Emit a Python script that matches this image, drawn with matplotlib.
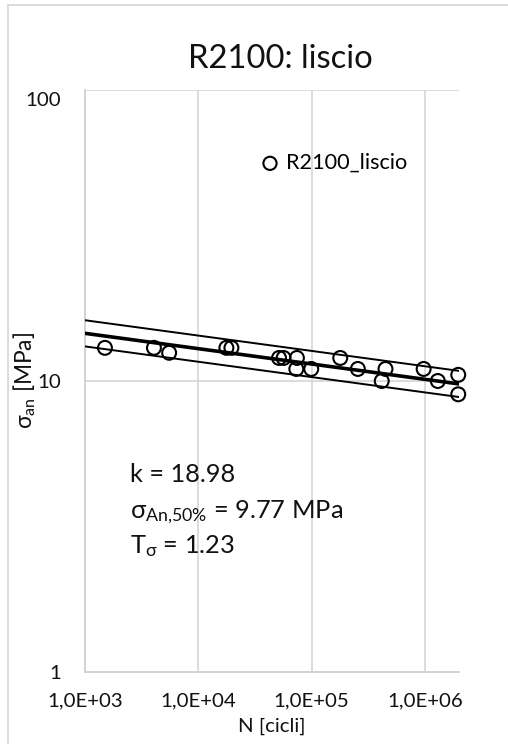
import numpy as np
import matplotlib.pyplot as plt
from matplotlib.patches import Rectangle
from matplotlib.transforms import ScaledTranslation

plt.rcParams['font.family'] = ['Lato', 'DejaVu Sans']
plt.rcParams['mathtext.fontset'] = 'custom'
plt.rcParams['mathtext.rm'] = 'Lato'
plt.rcParams['mathtext.it'] = 'Lato'

# fatigue test results, R2100 smooth specimens
cycles = [1500, 4060, 5530, 17700, 19600, 51600, 56600, 74200, 73300, 99300,
          179000, 256000, 449000, 416000, 975000, 1.30e6, 1.97e6, 1.97e6]
stress = [13.0, 13.0, 12.5, 13.0, 13.0, 12.0, 12.0, 12.0, 11.0, 11.0,
          12.0, 11.0, 11.0, 10.0, 11.0, 10.0, 10.5, 9.0]

# Wöhler curve parameters
k = 18.98
sigma_50 = 9.77      # MPa at 2e6 cycles
T_sigma = 1.23
N_ref = 2e6
N_range = [1e3, 2e6]

x_ticks = [1e3, 1e4, 1e5, 1e6]
x_ticklabels = ['1,0E+03', '1,0E+04', '1,0E+05', '1,0E+06']
y_ticks = [1, 10, 100]
y_ticklabels = ['1', '10', '100']

W, H = 508, 744
DARK = '#111111'
fig = plt.figure(figsize=(W / 100, H / 100), dpi=100)
renderer = fig.canvas.get_renderer()


def px(x, y):
    """pixel position (from top-left) -> figure fraction"""
    return x / W, 1 - y / H


def size_for(s, width_px):
    """font size that makes string s span width_px pixels"""
    t = fig.text(0, 0, s, fontsize=10)
    w = t.get_window_extent(renderer).width
    t.remove()
    return 10 * width_px / w


fs_tick = size_for('1,0E+03', 75)
fs_title = size_for('R2100: liscio', 185)
fs_note = size_for('k = 18.98', 105)
fs_leg = size_for('R2100_liscio', 121)

ax = fig.add_axes([85 / W, 1 - 672 / H, 374 / W, 582 / H])

N_line = np.array(N_range)
s_mean = sigma_50 * (N_ref / N_line) ** (1 / k)
ax.plot(N_line, s_mean, color='black', lw=2.6, zorder=3)
ax.plot(N_line, s_mean * np.sqrt(T_sigma), color='black', lw=1.4, zorder=3)
ax.plot(N_line, s_mean / np.sqrt(T_sigma), color='black', lw=1.4, zorder=3)

ax.scatter(cycles, stress, s=100, facecolors='none', edgecolors='black',
           linewidths=1.5, zorder=4, label='R2100_liscio', clip_on=False)

ax.set_xscale('log')
ax.set_yscale('log')
ax.set_xlim(1e3, 2e6)
ax.set_ylim(1, 100)
ax.set_xticks(x_ticks)
ax.set_xticklabels(x_ticklabels)
ax.set_yticks(y_ticks)
ax.set_yticklabels(y_ticklabels)
ax.minorticks_off()
ax.tick_params(axis='both', length=0, labelsize=fs_tick, colors=DARK)
ax.tick_params(axis='x', pad=15)
ax.tick_params(axis='y', pad=17)

# top label sits a little below its gridline
top_lbl = ax.get_yticklabels()[-1]
top_lbl.set_transform(top_lbl.get_transform()
                      + ScaledTranslation(0, -0.09, fig.dpi_scale_trans))

for v in x_ticks[1:]:
    ax.axvline(v, color='#d9d9d9', lw=1.3, zorder=1)
for v in [10, 100]:
    ax.axhline(v, color='#d9d9d9', lw=1.3, zorder=1)

for side in ['top', 'right']:
    ax.spines[side].set_visible(False)
for side in ['left', 'bottom']:
    ax.spines[side].set_color('#d0d0d0')
    ax.spines[side].set_linewidth(1.3)

fig.text(*px(280.5, 68), 'R2100: liscio', fontsize=fs_title, color=DARK,
         ha='center', va='baseline')

ax.set_xlabel('N [cicli]', fontsize=fs_tick, color=DARK, va='center')
ax.xaxis.set_label_coords(0.5, (672 - 726) / 582)
ax.set_ylabel(r'$\mathrm{σ_{an}}$ [MPa]', fontsize=fs_tick * 1.12,
              color=DARK, va='center')
ax.yaxis.set_label_coords(-(85 - 25) / 374, 0.5)

em = fs_leg / 72 * 100
ax.legend(loc='center left', bbox_to_anchor=px(270 - 0.4 * em, 163),
          bbox_transform=fig.transFigure, frameon=False, fontsize=fs_leg,
          handlelength=0.8, handletextpad=0.36, borderpad=0, borderaxespad=0,
          markerscale=0.95)

notes = ['k = 18.98',
         r'$\mathrm{σ_{An{,}50\%}}$ = 9.77 MPa',
         r'$\mathrm{T_{σ}}$ = 1.23']
for s, yb in zip(notes, [482, 518, 553]):
    fig.text(*px(130, yb), s, fontsize=fs_note, va='baseline', color=DARK)

# chart area border
fig.patches.append(Rectangle((8 / W, -0.1), 1.2, 1 - 5 / H + 0.1,
                             transform=fig.transFigure, fill=False,
                             edgecolor='#d9d9d9', lw=1.3))

fig.savefig('out.png', dpi=100)
